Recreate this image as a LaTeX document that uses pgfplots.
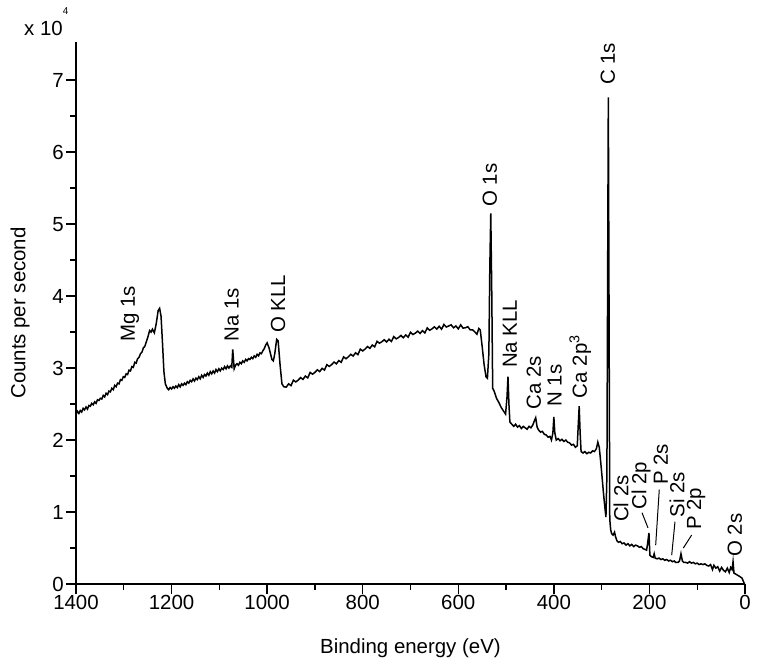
\documentclass[border=0pt]{standalone}
\usepackage{fontspec}
\setmainfont{Liberation Sans}
\usepackage{pgfplots}
\pgfplotsset{compat=1.18}
\newcommand\lf{\fontsize{20.5}{24}\selectfont}
\begin{document}
\begin{tikzpicture}
\useasboundingbox (-76bp,-87bp) rectangle (686bp,584bp);
\begin{axis}[
  scale only axis, width=669bp, height=542bp,
  xmin=0, xmax=1400, ymin=0, ymax=7.53,
  x dir=reverse,
  axis lines=left,
  axis line style={-, line width=1.6bp},
  x axis line style={-}, y axis line style={-},
  xtick={0,200,...,1400}, minor x tick num=1,
  ytick={0,1,...,7}, minor y tick num=1,
  tick align=outside,
  major tick length=10bp, minor tick length=5.5bp,
  every tick/.style={black, line width=1.4bp},
  /pgf/number format/assume math mode=true,
  /pgf/number format/1000 sep={},
  tick label style={font=\lf},
  xticklabel style={inner sep=1bp},
  yticklabel style={inner sep=2bp},
  xlabel={Binding energy (eV)},
  ylabel={Counts per second},
  label style={font=\lf},
  xlabel style={at={(axis description cs:0.5,-0.118)}, anchor=center},
  ylabel style={at={(axis description cs:-0.0837,0.5)}, anchor=center, rotate=0},
  clip=false,
]
\addplot[black, line width=1.5bp] table {
1400 2.36
1397 2.40
1394 2.37
1391 2.41
1388 2.39
1385 2.44
1382 2.42
1379 2.46
1376 2.43
1373 2.48
1370 2.47
1367 2.51
1364 2.49
1361 2.53
1358 2.51
1355 2.56
1352 2.55
1349 2.58
1346 2.57
1343 2.62
1340 2.60
1337 2.65
1334 2.63
1331 2.68
1328 2.67
1325 2.72
1322 2.70
1319 2.76
1316 2.74
1313 2.79
1310 2.78
1307 2.84
1304 2.83
1301 2.88
1298 2.87
1295 2.92
1292 2.91
1289 2.97
1286 2.96
1283 3.02
1280 3.01
1277 3.08
1274 3.07
1271 3.13
1268 3.15
1265 3.20
1262 3.22
1259 3.28
1256 3.30
1253 3.36
1250 3.42
1246 3.52
1243 3.50
1240 3.54
1236 3.49
1232 3.62
1228 3.80
1225 3.83
1222 3.72
1219 3.35
1216 2.95
1213 2.78
1209 2.72
1206 2.70
1203 2.73
1200 2.71
1197 2.74
1194 2.72
1191 2.75
1188 2.73
1185 2.77
1182 2.74
1179 2.78
1176 2.76
1173 2.79
1170 2.77
1167 2.81
1164 2.79
1161 2.83
1158 2.81
1155 2.85
1152 2.82
1149 2.86
1146 2.84
1143 2.88
1140 2.85
1137 2.90
1134 2.87
1131 2.91
1128 2.89
1125 2.93
1122 2.90
1119 2.95
1116 2.92
1113 2.96
1110 2.93
1107 2.98
1104 2.95
1101 2.99
1098 2.96
1095 3.00
1092 2.98
1089 3.02
1086 2.99
1083 3.03
1080 3.00
1077 3.03
1074 3.01
1072 3.26
1069 2.99
1066 3.04
1063 3.06
1060 3.04
1057 3.08
1054 3.06
1051 3.10
1048 3.08
1045 3.12
1042 3.10
1039 3.13
1036 3.12
1033 3.15
1030 3.13
1027 3.17
1024 3.15
1021 3.19
1018 3.17
1015 3.21
1012 3.20
1009 3.24
1006 3.27
1003 3.32
1000 3.35
996 3.28
990 3.12
987 3.10
984 3.20
980 3.40
977 3.38
973 3.05
969 2.78
965 2.74
960 2.735
955 2.781
950 2.756
945 2.832
940 2.807
935 2.832
930 2.868
925 2.843
920 2.889
915 2.864
910 2.939
905 2.915
900 2.940
895 2.976
890 2.951
885 2.996
880 2.972
875 3.047
870 3.023
865 3.048
860 3.083
855 3.059
850 3.104
845 3.080
840 3.155
835 3.130
830 3.156
825 3.191
820 3.167
815 3.212
810 3.187
805 3.263
800 3.238
795 3.264
790 3.299
785 3.274
780 3.320
775 3.295
770 3.371
765 3.346
760 3.365
755 3.393
750 3.362
745 3.400
740 3.369
735 3.437
730 3.406
725 3.424
720 3.453
715 3.421
710 3.460
705 3.429
700 3.497
695 3.466
690 3.484
685 3.513
680 3.481
675 3.520
670 3.488
665 3.557
660 3.525
655 3.544
650 3.573
645 3.541
640 3.580
635 3.540
630 3.605
625 3.570
620 3.585
615 3.600
610 3.560
605 3.585
600 3.545
595 3.600
590 3.555
585 3.560
580 3.575
575 3.530
570 3.530
565 3.500
561 3.47
557 3.55
554 3.53
550 3.30
546 3.05
542 2.88
539 2.86
536 3.20
534 4.40
532 5.15
530 4.10
528 2.72
525 2.68
520 2.58
515 2.52
510 2.45
505 2.40
501 2.36
498 2.60
496 2.88
494 2.50
492 2.25
488 2.22
484 2.19
480 2.22
476 2.18
472 2.20
468 2.16
464 2.19
460 2.17
456 2.15
452 2.19
448 2.17
444 2.21
440 2.28
438 2.31
435 2.18
432 2.14
428 2.11
424 2.12
420 2.08
416 2.07
412 2.04
408 2.05
405 2.00
402 2.10
400 2.32
398 2.10
395 2.00
391 2.02
387 1.99
383 2.01
379 1.98
375 2.00
371 1.97
367 1.96
363 1.93
359 1.94
355 1.90
351 1.92
349 2.20
347 2.47
345 2.10
343 1.84
339 1.82
335 1.84
331 1.81
327 1.83
323 1.82
319 1.85
315 1.84
311 1.88
308 1.97
305 1.90
302 1.70
299 1.48
296 1.25
293 1.05
291 0.93
289 1.50
286 6.76
283 0.90
281 0.75
279 0.70
276 0.68
273 0.72
271 0.66
268 0.60
265 0.58
261 0.59
257 0.56
253 0.57
249 0.54
245 0.56
241 0.53
237 0.55
233 0.52
229 0.54
225 0.53
221 0.51
217 0.52
213 0.49
209 0.48
206 0.47
204 0.55
201 0.71
199 0.40
196 0.38
192 0.37
190 0.42
188 0.36
184 0.35
180 0.36
176 0.34
172 0.35
168 0.33
164 0.34
160 0.32
156 0.33
152 0.31
148 0.32
145 0.30
140 0.30
137 0.32
134 0.42
131 0.32
128 0.30
124 0.30
120 0.29
116 0.31
112 0.29
108 0.30
104 0.28
100 0.29
96 0.27
92 0.28
88 0.27
84 0.28
80 0.26
76 0.25
72 0.27
68 0.20
65 0.26
61 0.22
57 0.24
53 0.18
49 0.23
45 0.19
41 0.17
37 0.22
33 0.16
30 0.23
27 0.20
25 0.31
23 0.15
20 0.14
15 0.12
10 0.10
6 0.08
3 0.03
1 0.00
};
\begin{scope}[every node/.style={rotate=90, anchor=west, inner sep=0pt, font=\lf}]
\node at (axis cs:1287,3.36) {Mg 1s};
\node at (axis cs:1074,3.37) {Na 1s};
\node at (axis cs:977,3.49) {O KLL};
\node at (axis cs:534,5.24) {O 1s};
\node at (axis cs:492,3.00) {Na KLL};
\node at (axis cs:442,2.42) {Ca 2s};
\node at (axis cs:398,2.46) {N 1s};
\node at (axis cs:345,2.58) {Ca 2p\textsuperscript{3}};
\node at (axis cs:287,6.93) {C 1s};
\node at (axis cs:259.5,0.86) {Cl 2s};
\node at (axis cs:217.6,1.03) {Cl 2p};
\node at (axis cs:176,1.375) {P 2s};
\node at (axis cs:142,0.92) {Si 2s};
\node at (axis cs:102.5,0.75) {P 2p};
\node at (axis cs:21,0.375) {O 2s};
\end{scope}
\draw[black, line width=1bp] (axis cs:215.5,0.99) -- (axis cs:203,0.78);
\draw[black, line width=1bp] (axis cs:179.4,1.31) -- (axis cs:186.9,0.54);
\draw[black, line width=1bp] (axis cs:146.5,0.865) -- (axis cs:153.4,0.40);
\draw[black, line width=1bp] (axis cs:111.6,0.68) -- (axis cs:129,0.50);
\node[anchor=base west, inner sep=0pt, font=\lf] at (axis description cs:0,1) [xshift=-52bp, yshift=6bp] {x 10\raisebox{21bp}{\fontsize{10}{12}\selectfont 4}};
\end{axis}
\end{tikzpicture}
\end{document}
